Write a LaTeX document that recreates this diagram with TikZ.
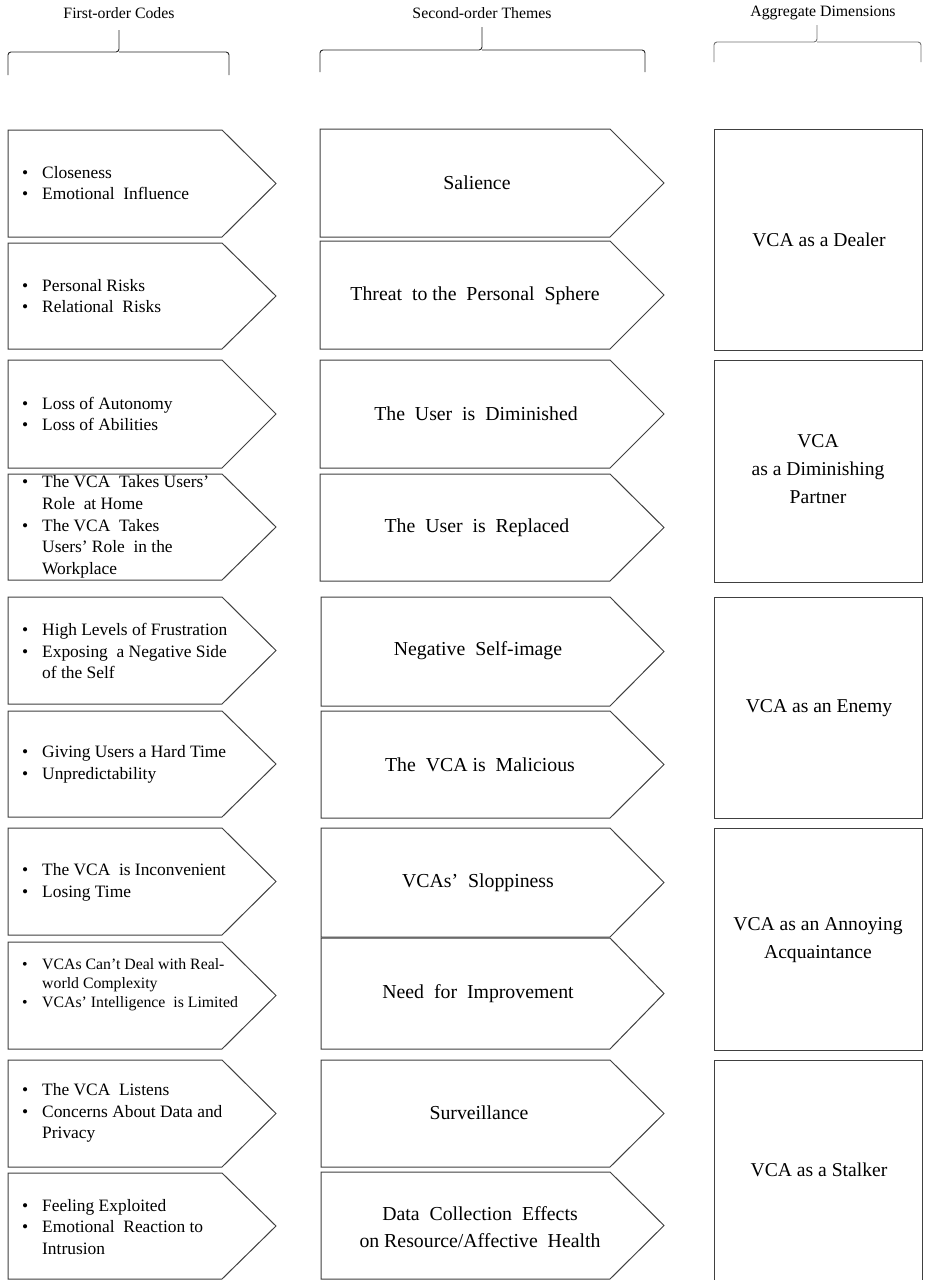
\documentclass[tikz,border=0pt]{standalone}
\usepackage{fontspec}
\setmainfont{Liberation Serif}
\newcommand\bl{\makebox[20pt][l]{•}}
\newcommand\ind{\hspace*{20pt}}
\newcommand\chevron[5]{%
  \draw[box] (#2,#3) -- (#5,#3) -- ({#5+54},{(#3+#4)/2}) -- (#5,#4) -- (#2,#4) -- cycle;
  \coordinate (#1) at ({(#2+#5)/2},{(#3+#4)/2});}
\begin{document}
\begin{tikzpicture}[x=1pt,y=-1pt,
  box/.style={draw=black!75, line width=1pt},
  lefttxt/.style={anchor=west, align=left, inner sep=0pt, font=\fontsize{17.4}{21.7}\selectfont},
  midtxt/.style={align=center, inner sep=0pt, font=\fontsize{19.8}{27}\selectfont},
  righttxt/.style={align=center, inner sep=0pt, font=\fontsize{19.6}{28}\selectfont},
  head/.style={inner sep=0pt, font=\fontsize{15.8}{18}\selectfont},
  brace/.style={draw=black!85, line width=0.9pt, rounded corners=3pt}]
\useasboundingbox (0,0) rectangle (924,1280);
\fill[white] (0,0) rectangle (924,1280);

% headings and braces
\node[head] (h1) at (119,13) {First-order Codes};
\node[head] (h2) at (482,13) {Second-order Themes};
\node[head] (h3) at (823,13) {Aggregate Dimensions};
\draw[brace] (8,75) -- (8,52) -- (119,52) -- (119,30);
\draw[brace] (229,75) -- (229,52) -- (119,52);
\draw[brace] (320,72) -- (320,50) -- (482,50) -- (482,27);
\draw[brace] (645,72) -- (645,50) -- (482,50);
\draw[brace, draw=black!55] (714,62) -- (714,42) -- (817,42) -- (817,25);
\draw[brace, draw=black!55] (921,62) -- (921,42) -- (817,42);

% left column
\chevron{L1}{8}{130}{237}{222}
\chevron{L2}{8}{243}{349}{222}
\chevron{L3}{8}{360}{468}{222}
\chevron{L4}{8}{474}{580}{222}
\chevron{L5}{8}{597}{704}{222}
\chevron{L6}{8}{711}{817}{222}
\chevron{L7}{8}{828}{935}{222}
\chevron{L8}{8}{942}{1049}{222}
\chevron{L9}{8}{1060}{1167}{222}
\chevron{L10}{8}{1173}{1279}{222}

\node[lefttxt] (t1) at (22,183) {\bl Closeness\\\bl Emotional\ \ Influence};
\node[lefttxt] (t2) at (22,296) {\bl Personal Risks\\\bl Relational\ \ Risks};
\node[lefttxt] (t3) at (22,414) {\bl Loss of Autonomy\\\bl Loss of Abilities};
\node[lefttxt] (t4) at (22,527) {\bl The VCA\ \ Takes Users'\\\ind Role\ \ at Home\\\bl The VCA\ \ Takes\\\ind Users' Role\ \ in the\\\ind Workplace};
\node[lefttxt] (t5) at (22,651) {\bl High Levels of Frustration\\\bl Exposing\ \ a Negative Side\\\ind of the Self};
\node[lefttxt] (t6) at (22,764) {\bl Giving Users a Hard Time\\\bl Unpredictability};
\node[lefttxt] (t7) at (22,882) {\bl The VCA\ \ is Inconvenient\\\bl Losing Time};
\node[lefttxt, font=\fontsize{15.8}{19}\selectfont] (t8) at (22,985) {\bl VCAs Can't Deal with Real-\\\ind world Complexity\\\bl VCAs' Intelligence\ \ is Limited};
\node[lefttxt] (t9) at (22,1113) {\bl The VCA\ \ Listens\\\bl Concerns About Data and\\\ind Privacy};
\node[lefttxt] (t10) at (22,1227) {\bl Feeling Exploited\\\bl Emotional\ \ Reaction to\\\ind Intrusion};

% middle column
\chevron{M1}{320}{129}{237}{610}
\chevron{M2}{320}{241}{349}{610}
\chevron{M3}{320}{360}{468}{610}
\chevron{M4}{320}{474}{581}{610}
\chevron{M5}{321}{597}{706}{610}
\chevron{M6}{321}{711}{818}{610}
\chevron{M7}{321}{828}{937}{610}
\chevron{M8}{321}{938}{1049}{610}
\chevron{M9}{321}{1060}{1167}{610}
\chevron{M10}{321}{1172}{1279}{610}

\node[midtxt] (s1) at (477,183) {Salience};
\node[midtxt] (s2) at (475,296) {Threat\ \ to the\ \ Personal\ \ Sphere};
\node[midtxt] (s3) at (476,414) {The\ \ User\ \ is\ \ Diminished};
\node[midtxt] (s4) at (477,528) {The\ \ User\ \ is\ \ Replaced};
\node[midtxt] (s5) at (478,651) {Negative\ \ Self-image};
\node[midtxt] (s6) at (480,765) {The\ \ VCA is\ \ Malicious};
\node[midtxt] (s7) at (478,883) {VCAs'\ \ Sloppiness};
\node[midtxt] (s8) at (478,994) {Need\ \ for\ \ Improvement};
\node[midtxt] (s9) at (479,1113) {Surveillance};
\node[midtxt] (s10) at (480,1227) {Data\ \ Collection\ \ Effects\\on Resource/Affective\ \ Health};

% right column
\draw[box] (714,129) rectangle (922,350);
\draw[box] (714,360) rectangle (922,582);
\draw[box] (714,597) rectangle (922,818);
\draw[box] (714,828) rectangle (922,1050);
\draw[box] (714,1282) -- (714,1060) -- (922,1060) -- (922,1282);

\node[righttxt] (a1) at (819,240) {VCA as a Dealer};
\node[righttxt] (a2) at (818,469) {VCA\\as a Diminishing\\Partner};
\node[righttxt] (a3) at (819,708) {VCA as an Enemy};
\node[righttxt] (a4) at (818,940) {VCA as an Annoying\\Acquaintance};
\node[righttxt] (a5) at (819,1170) {VCA as a Stalker};
\end{tikzpicture}
\end{document}
